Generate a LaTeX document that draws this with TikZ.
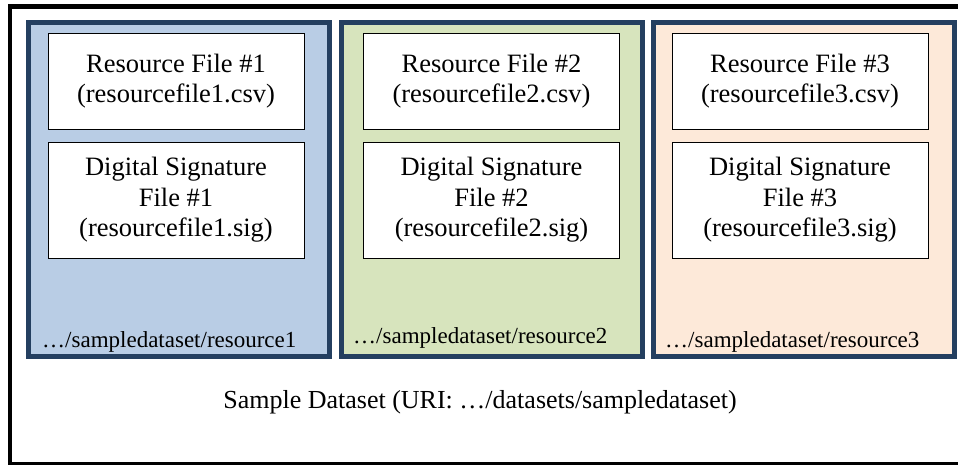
\documentclass[tikz,border=0pt]{standalone}
\usepackage{fontspec}
\setmainfont{Liberation Serif}
\definecolor{panelborder}{HTML}{243F60}
\definecolor{bluefill}{HTML}{B9CDE5}
\definecolor{greenfill}{HTML}{D7E4BD}
\definecolor{orangefill}{HTML}{FDE9D9}
\tikzset{
  panel/.style={draw=panelborder, line width=5pt, rectangle, inner sep=0pt,
    minimum width=301pt, minimum height=334pt},
  filebox/.style={draw=black, line width=0.9pt, fill=white, rectangle, inner sep=0pt,
    minimum width=256pt, align=center, font=\fontsize{26.5}{30.5}\selectfont},
  pathlabel/.style={anchor=base west, inner sep=0pt, font=\fontsize{23}{26}\selectfont},
  titlelabel/.style={anchor=base, inner sep=0pt, font=\fontsize{26}{30}\selectfont}
}
\begin{document}
\begin{tikzpicture}[x=1pt, y=-1pt]
\useasboundingbox (0,0) rectangle (958,464);
\clip (0,0) rectangle (958,464);
\fill[white] (0,0) rectangle (958,464);
% outer frame
\draw[black, line width=4.5pt] (10,6.5) rectangle (975,464);
% panels
\node[panel, fill=bluefill]   (p1) at (179,189.5) {};
\node[panel, fill=greenfill]  (p2) at (492,189.5) {};
\node[panel, fill=orangefill] (p3) at (803.5,189.5) {};
% resource file boxes
\node[filebox, minimum height=96pt] (r1) at (176,81) {Resource File \#1\\(resourcefile1.csv)};
\node[filebox, minimum height=96pt] (r2) at (491.5,81) {Resource File \#2\\(resourcefile2.csv)};
\node[filebox, minimum height=96pt] (r3) at (800,81) {Resource File \#3\\(resourcefile3.csv)};
% signature boxes
\node[filebox, minimum height=116pt] (s1) at (176,200) {Digital Signature\\File \#1\\(resourcefile1.sig)};
\node[filebox, minimum height=116pt] (s2) at (491.5,200) {Digital Signature\\File \#2\\(resourcefile2.sig)};
\node[filebox, minimum height=116pt] (s3) at (800,200) {Digital Signature\\File \#3\\(resourcefile3.sig)};
% path labels
\node[pathlabel] (l1) at (42,347) {…/sampledataset/resource1};
\node[pathlabel] (l2) at (353,343) {…/sampledataset/resource2};
\node[pathlabel] (l3) at (665,347) {…/sampledataset/resource3};
% dataset label
\node[titlelabel] (ds) at (480,408) {Sample Dataset (URI: …/datasets/sampledataset)};
\end{tikzpicture}
\end{document}
